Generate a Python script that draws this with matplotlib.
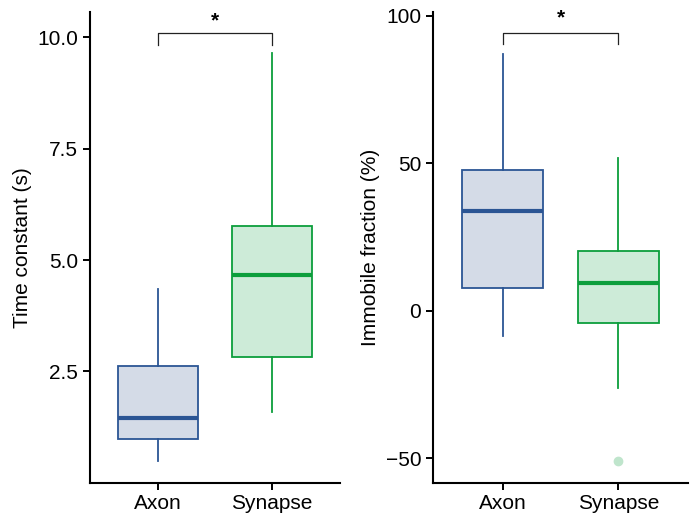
import matplotlib
matplotlib.use('Agg')
import matplotlib.pyplot as plt

plt.rcParams['font.family'] = ['Liberation Sans', 'DejaVu Sans']

CATEGORIES = ['Axon', 'Synapse']
EDGE_COLORS = ['#2b5594', '#0c9e3c']
FILL_COLORS = ['#d4dbe7', '#cdebd8']

# box summary: whisker low, q1, median, q3, whisker high
TIME_LOW = [0.48, 1.59]
TIME_Q1 = [0.97, 2.83]
TIME_MED = [1.46, 4.66]
TIME_Q3 = [2.63, 5.77]
TIME_HIGH = [4.34, 9.64]
TIME_OUTLIERS = [[], []]

IMMOB_LOW = [-8.5, -26.1]
IMMOB_Q1 = [7.6, -4.1]
IMMOB_MED = [33.6, 9.3]
IMMOB_Q3 = [47.5, 20.2]
IMMOB_HIGH = [87.1, 51.6]
IMMOB_OUTLIERS = [[], [-50.9]]


def _stats(low, q1, med, q3, high, outliers):
    return [dict(whislo=low[i], q1=q1[i], med=med[i], q3=q3[i], whishi=high[i],
                 fliers=outliers[i], label=CATEGORIES[i]) for i in range(len(CATEGORIES))]


def _draw(ax, stats, ylabel, yticks, yticklabels, ylim, bracket_y, bracket_drop, star_y):
    for i, st in enumerate(stats):
        ax.bxp([st], positions=[i + 1], widths=0.7, patch_artist=True, showcaps=False,
               boxprops=dict(facecolor=FILL_COLORS[i], edgecolor=EDGE_COLORS[i], linewidth=1.3),
               medianprops=dict(color=EDGE_COLORS[i], linewidth=3, solid_capstyle='butt'),
               whiskerprops=dict(color=EDGE_COLORS[i], linewidth=1.3),
               flierprops=dict(marker='o', markersize=6, markerfacecolor='#bfe5cc',
                               markeredgecolor='#bfe5cc'))
    ax.set_xlim(0.4, 2.6)
    ax.set_ylim(*ylim)
    ax.set_xticks([1, 2])
    ax.set_xticklabels(CATEGORIES)
    ax.set_yticks(yticks)
    ax.set_yticklabels(yticklabels)
    ax.set_ylabel(ylabel, fontsize=15)
    ax.tick_params(labelsize=15, width=1.4, length=5, colors='black')
    for side in ['top', 'right']:
        ax.spines[side].set_visible(False)
    for side in ['left', 'bottom']:
        ax.spines[side].set_linewidth(1.5)
    # significance bracket
    ax.plot([1, 1, 2, 2], [bracket_y - bracket_drop, bracket_y, bracket_y, bracket_y - bracket_drop],
            color='#222222', linewidth=0.9)
    ax.text(1.5, star_y, '*', ha='center', va='center', fontsize=15, fontweight='bold',
            clip_on=False)


fig = plt.figure(figsize=(6.96, 5.13), dpi=100)
ax1 = fig.add_axes([0.1293, 0.0591, 0.3592, 0.9175])
ax2 = fig.add_axes([0.6221, 0.0591, 0.3664, 0.9175])

_draw(ax1, _stats(TIME_LOW, TIME_Q1, TIME_MED, TIME_Q3, TIME_HIGH, TIME_OUTLIERS),
      'Time constant (s)', [2.5, 5.0, 7.5, 10.0], ['2.5', '5.0', '7.5', '10.0'],
      (0.0, 10.57), 10.1, 0.26, 10.38)
_draw(ax2, _stats(IMMOB_LOW, IMMOB_Q1, IMMOB_MED, IMMOB_Q3, IMMOB_HIGH, IMMOB_OUTLIERS),
      'Immobile fraction (%)', [-50, 0, 50, 100], ['\u221250', '0', '50', '100'],
      (-58.3, 101.2), 94.1, 3.9, 99.3)

fig.savefig('out.png', dpi=100)
